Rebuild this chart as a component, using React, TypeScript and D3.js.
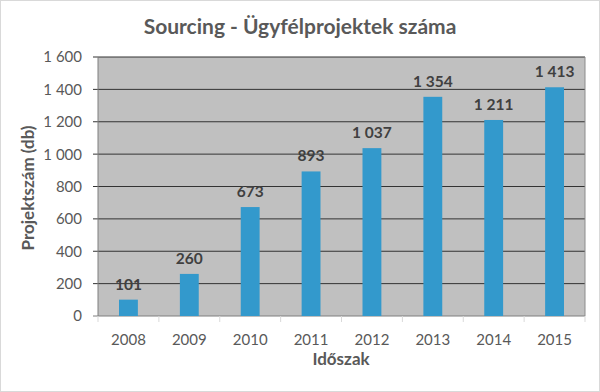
import React from "react";
import * as d3 from "d3";

const years = ["2008", "2009", "2010", "2011", "2012", "2013", "2014", "2015"];
const values = [101, 260, 673, 893, 1037, 1354, 1211, 1413];
const yTicks = [0, 200, 400, 600, 800, 1000, 1200, 1400, 1600];

const W = 600, H = 392;
const m = { left: 98, right: 585, top: 57, bottom: 316 };
const font = "Lato, 'Open Sans', sans-serif";
const fmt = (v: number) => {
  const s = String(v);
  return s.length > 3 ? s.slice(0, s.length - 3) + " " + s.slice(-3) : s;
};

export default function App() {
  const x = d3.scaleBand<string>().domain(years).range([m.left, m.right]).paddingInner(0.69).paddingOuter(0.345);
  const xb = d3.scaleBand<string>().domain(years).range([m.left, m.right]);
  const y = d3.scaleLinear().domain([0, 1600]).range([m.bottom, m.top]);
  return (
    <svg width={W} height={H} style={{ position: "absolute", left: 0, top: 0 }}>
      <rect x={0.5} y={0.5} width={W - 1} height={H - 1} fill="#fff" stroke="#d9d9d9" />
      <text x={300} y={34} textAnchor="middle" fontFamily={font} fontWeight="bold" fontSize={21} fill="#595959">
        Sourcing - Ügyfélprojektek száma
      </text>
      <rect x={m.left} y={m.top} width={m.right - m.left} height={m.bottom - m.top} fill="#c0c0c0" />
      {yTicks.map((t) => (
        <g key={t}>
          <line x1={m.left - 5} x2={m.right} y1={y(t)} y2={y(t)} stroke={t === 0 ? "#7f7f7f" : "#333333"} strokeWidth={1} />
          <text x={m.left - 16} y={y(t)} dy="0.36em" textAnchor="end" fontFamily={font} fontSize={15} fill="#595959">
            {fmt(t)}
          </text>
        </g>
      ))}
      <line x1={m.left} x2={m.left} y1={m.top} y2={m.bottom} stroke="#7f7f7f" />
      <line x1={m.right} x2={m.right} y1={m.top} y2={m.bottom} stroke="#8c8c8c" />
      {years.map((yr, i) => (
        <g key={yr}>
          <line x1={xb(yr)!} x2={xb(yr)!} y1={m.bottom} y2={m.bottom + 6} stroke="#d9d9d9" />
          {i === years.length - 1 && (
            <line x1={m.right} x2={m.right} y1={m.bottom} y2={m.bottom + 6} stroke="#d9d9d9" />
          )}
          <rect x={x(yr)!} y={y(values[i])} width={x.bandwidth()} height={m.bottom - y(values[i])} fill="#3399cc" />
          <text x={x(yr)! + x.bandwidth() / 2} y={y(values[i]) - 10} textAnchor="middle" fontFamily={font} fontWeight="bold" fontSize={15.5} fill="#404040">
            {fmt(values[i])}
          </text>
          <text x={xb(yr)! + xb.bandwidth() / 2} y={m.bottom + 29} textAnchor="middle" fontFamily={font} fontSize={15} fill="#595959">
            {yr}
          </text>
        </g>
      ))}
      <text x={341} y={365} textAnchor="middle" fontFamily={font} fontWeight="bold" fontSize={17} fill="#595959">
        Időszak
      </text>
      <text transform={`translate(34,188) rotate(-90)`} textAnchor="middle" fontFamily={font} fontWeight="bold" fontSize={17} fill="#595959">
        Projektszám (db)
      </text>
    </svg>
  );
}
